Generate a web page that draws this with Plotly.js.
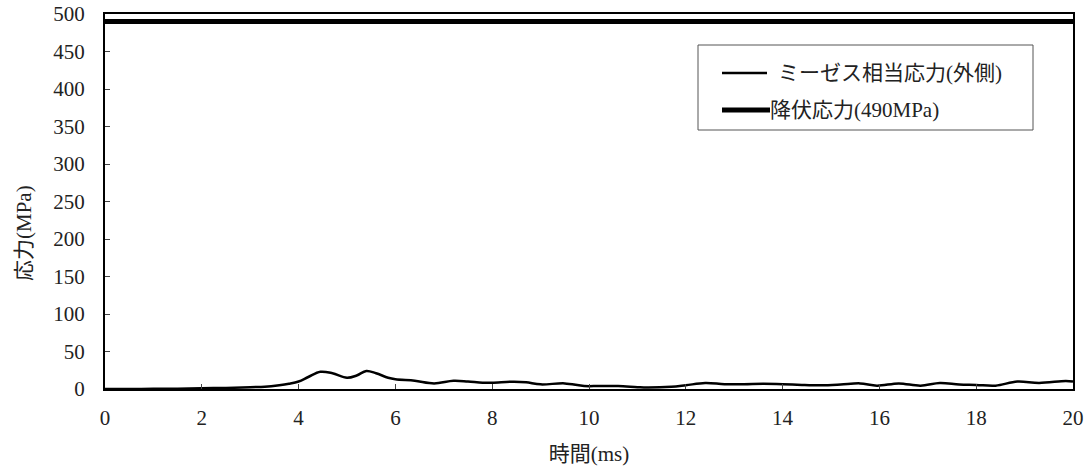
<!DOCTYPE html>
<html>
<head>
<meta charset="utf-8">
<script src="https://cdn.plot.ly/plotly-3.0.1.min.js"></script>
<style>html,body{margin:0;padding:0;background:#fff;}#chart{width:1091px;height:472px;}</style>
</head>
<body>
<div id="chart"></div>
<script>
const timeMs = [0, 0.5, 1, 1.5, 2, 2.5, 3, 3.3, 3.6, 3.8, 4.0, 4.2, 4.45, 4.7, 5.0, 5.2, 5.4, 5.6, 5.85, 6.0, 6.4, 6.8, 7.2, 7.5, 7.8, 8.0, 8.45, 8.7, 9.0, 9.5, 9.9, 10.2, 10.6, 11.0, 11.2, 11.7, 12.0, 12.4, 12.8, 13.2, 13.6, 14.0, 14.4, 14.8, 15.2, 15.6, 15.95, 16.4, 16.85, 17.25, 17.65, 18.0, 18.4, 18.85, 19.3, 19.85, 20];
const misesStress = [0, 0, 0.3, 0.5, 1, 1.5, 2.5, 3, 5, 7, 10, 16, 23, 21, 15, 18, 24, 21, 15, 13, 11, 7.5, 11, 10, 8.5, 8.5, 9.8, 9, 6.2, 7.5, 4, 4, 4, 2.5, 2, 3, 5, 8, 6.5, 6.5, 7, 6.5, 5.5, 5, 6, 7.5, 4.5, 7.5, 4.5, 8, 6, 5.5, 4.5, 10, 8, 10.7, 10];
const yieldTime = [0, 20];
const yieldStress = [490, 490];
const seriesNames = ["ミーゼス相当応力(外側)", "降伏応力(490MPa)"];
const xTitle = "時間(ms)";
const yTitle = "応力(MPa)";

const FONT = "'Liberation Serif', 'Noto Sans CJK JP', serif";
const TXT = "#222";

// pixel helpers for the plot area (l=105, w=968, t=14, h=375)
const px = v => (v - 105) / 968;
const py = v => (389 - v) / 375;

const traces = [
  {x: timeMs, y: misesStress, name: seriesNames[0], mode: "lines", type: "scatter",
   line: {color: "#000", width: 2.5, shape: "spline", smoothing: 1}},
  {x: yieldTime, y: yieldStress, name: seriesNames[1], mode: "lines", type: "scatter",
   line: {color: "#000", width: 5}}
];

const layout = {
  width: 1091, height: 472,
  margin: {l: 105, r: 18, t: 14, b: 83},
  paper_bgcolor: "#fff", plot_bgcolor: "#fff",
  font: {family: FONT, size: 21, color: TXT},
  showlegend: false,
  shapes: [
    {type: "rect", xref: "paper", yref: "paper", x0: px(698), x1: px(1033),
     y0: py(130), y1: py(45), line: {color: "#555", width: 1}, fillcolor: "rgba(0,0,0,0)"},
    {type: "line", xref: "paper", yref: "paper", x0: px(722), x1: px(767), y0: py(73), y1: py(73),
     line: {color: "#000", width: 2.5}},
    {type: "line", xref: "paper", yref: "paper", x0: px(722), x1: px(770), y0: py(110), y1: py(110),
     line: {color: "#000", width: 5}}
  ],
  annotations: [
    {xref: "paper", yref: "paper", x: px(776), y: py(73), xanchor: "left", yanchor: "middle",
     text: seriesNames[0], showarrow: false, font: {family: FONT, size: 21, color: TXT}},
    {xref: "paper", yref: "paper", x: px(768), y: py(110), xanchor: "left", yanchor: "middle",
     text: seriesNames[1], showarrow: false, font: {family: FONT, size: 21, color: TXT}},
    {xref: "paper", yref: "paper", x: -81 / 968, y: py(233), xanchor: "center", yanchor: "middle",
     text: yTitle, textangle: -90, showarrow: false, font: {family: FONT, size: 21, color: TXT}}
  ],
  xaxis: {
    range: [0, 20], dtick: 2, tick0: 0, showgrid: false, zeroline: false,
    showline: true, linecolor: "#000", linewidth: 2, mirror: true,
    ticks: "inside", ticklen: 5, tickcolor: "#444", tickwidth: 1,
    ticklabelstandoff: 9,
    tickfont: {family: FONT, size: 21, color: TXT},
    title: {text: xTitle, font: {family: FONT, size: 21, color: TXT}, standoff: 17}
  },
  yaxis: {
    range: [0, 500], dtick: 50, tick0: 0, showgrid: false, zeroline: false,
    showline: true, linecolor: "#000", linewidth: 2, mirror: true,
    ticks: "inside", ticklen: 5, tickcolor: "#444", tickwidth: 1,
    ticklabelstandoff: 14,
    tickfont: {family: FONT, size: 21, color: TXT}
  }
};

Plotly.newPlot("chart", traces, layout, {displayModeBar: false, staticPlot: true});
</script>
</body>
</html>
